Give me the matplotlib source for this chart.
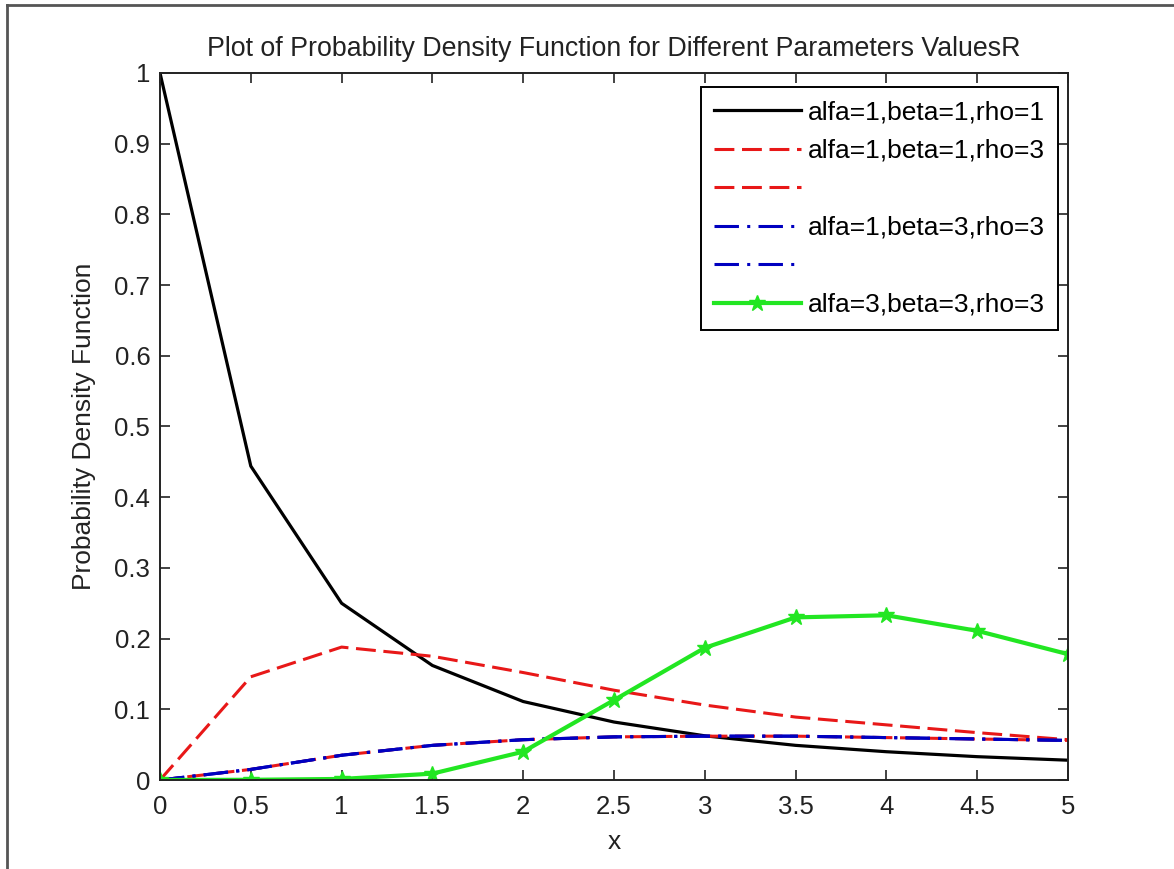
import numpy as np
import matplotlib.pyplot as plt
from matplotlib.lines import Line2D

plt.rcParams['font.family'] = ['Liberation Sans', 'DejaVu Sans']

# values, x = 0:0.5:5
x = [0, 0.5, 1, 1.5, 2, 2.5, 3, 3.5, 4, 4.5, 5]
pdf_111 = [1.0, 0.444, 0.25, 0.162, 0.111, 0.082, 0.0625, 0.049, 0.04, 0.033, 0.028]
pdf_113 = [0.0, 0.146, 0.188, 0.175, 0.152, 0.127, 0.106, 0.089, 0.078, 0.067, 0.057]
pdf_133 = [0.0, 0.015, 0.035, 0.049, 0.057, 0.061, 0.062, 0.062, 0.060, 0.058, 0.056]
pdf_333 = [0.0, 0.0003, 0.0015, 0.009, 0.040, 0.113, 0.187, 0.230, 0.233, 0.211, 0.178]

labels = ['alfa=1,beta=1,rho=1', 'alfa=1,beta=1,rho=3', ' ',
          'alfa=1,beta=3,rho=3', ' ', 'alfa=3,beta=3,rho=3']

fig = plt.figure(figsize=(11.74, 8.69), dpi=100)
ax = fig.add_axes([160/1174, 89/869, 908/1174, 707/869])

red = '#e81818'
blue = '#0000c0'
h = []
h += ax.plot(x, pdf_111, 'k-', lw=2.3)
h += ax.plot(x, pdf_113, '--', color=red, lw=2.2, dashes=(6.5, 2.5))
h += ax.plot(x, pdf_133, '--', color=red, lw=2.2, dashes=(6.5, 2.5))
h += ax.plot(x, pdf_133, '-.', color=blue, lw=2.2, dashes=(8, 2.7, 1, 2.7))
h += ax.plot(x, pdf_133, '-.', color=blue, lw=2.2, dashes=(8, 2.7, 1, 2.7))
h += ax.plot(x, pdf_333, '-', color='#22e622', lw=3, marker='*', ms=12,
             mec='#22e622')

ax.set_xlim(0, 5)
ax.set_ylim(0, 1)
ax.set_xticks(np.arange(0, 5.01, 0.5))
ax.set_yticks(np.arange(0, 1.01, 0.1))
ax.set_xticklabels(['0', '0.5', '1', '1.5', '2', '2.5', '3', '3.5', '4', '4.5', '5'])
ax.set_yticklabels(['0', '0.1', '0.2', '0.3', '0.4', '0.5', '0.6', '0.7', '0.8', '0.9', '1'])
ax.tick_params(direction='in', length=7, width=1.2, top=True, right=True,
               labelsize=18.5, colors='#222222')
ax.tick_params(axis='x', pad=11)
ax.tick_params(axis='y', pad=7)
for s in ax.spines.values():
    s.set_linewidth(1.4)
    s.set_color('#222222')

ax.set_title('Plot of Probability Density Function for Different Parameters ValuesR',
             fontsize=19.3, pad=12, color='#222222')
ax.set_xlabel('x', fontsize=19, labelpad=8, color='#222222')
ax.set_ylabel('Probability Density Function', fontsize=19, labelpad=13, color='#222222')

leg = ax.legend(h, labels, loc='upper right', bbox_to_anchor=(0.989, 0.980), fontsize=19,
                fancybox=False, framealpha=1, edgecolor='black', handlelength=3.3,
                handletextpad=0.26, borderpad=0.5, labelspacing=0.55,
                borderaxespad=0)
leg.get_frame().set_linewidth(1.4)

# screenshot border on left and top
fig.add_artist(Line2D([7/1174, 7/1174], [0, 1 - 5/869], color='#555555', lw=2))
fig.add_artist(Line2D([7/1174, 1], [1 - 5/869, 1 - 5/869], color='#555555', lw=2))

fig.savefig('out.png', dpi=100)
